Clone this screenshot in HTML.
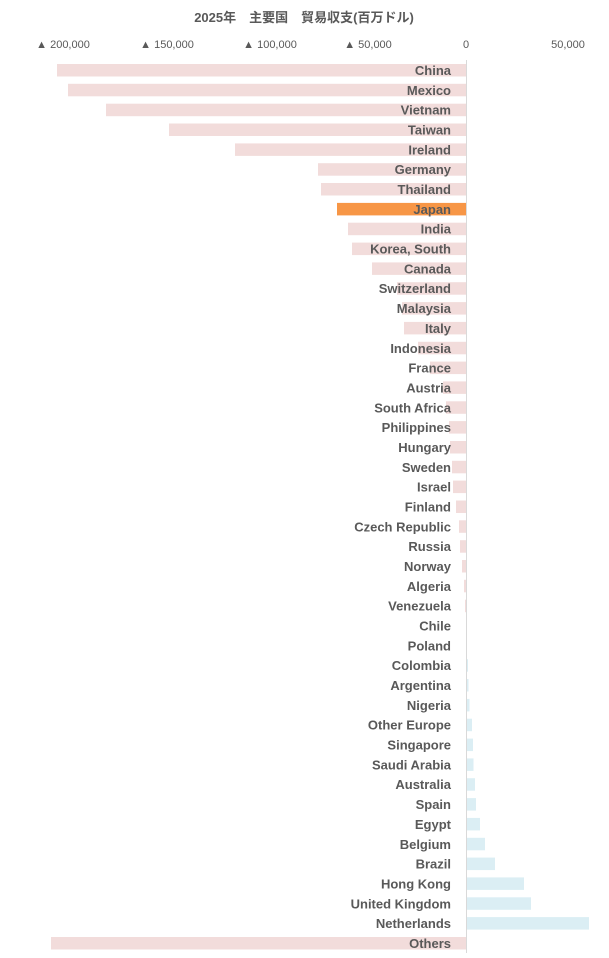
<!DOCTYPE html>
<html><head><meta charset="utf-8"><style>
html,body{margin:0;padding:0;background:#fff;}
svg{display:block;}
text{font-family:"Liberation Sans","Noto Sans CJK JP",sans-serif;fill:#595959;}
</style></head><body>
<svg width="609" height="958" xmlns="http://www.w3.org/2000/svg">
<text x="304" y="22" text-anchor="middle" font-size="13" font-weight="bold">2025年　主要国　貿易収支(百万ドル)</text>
<g font-size="11" text-anchor="middle">
<text x="63" y="48">▲ 200,000</text>
<text x="167" y="48">▲ 150,000</text>
<text x="270" y="48">▲ 100,000</text>
<text x="368" y="48">▲ 50,000</text>
<text x="466" y="48">0</text>
<text x="568" y="48">50,000</text>
</g>
<g fill="#f2dcdb">
<rect x="57" y="64.0" width="409.5" height="12.5"/>
<rect x="68" y="83.8" width="398.5" height="12.5"/>
<rect x="106" y="103.7" width="360.5" height="12.5"/>
<rect x="169" y="123.5" width="297.5" height="12.5"/>
<rect x="235" y="143.4" width="231.5" height="12.5"/>
<rect x="318" y="163.2" width="148.5" height="12.5"/>
<rect x="321" y="183.0" width="145.5" height="12.5"/>
<rect x="337" y="202.9" width="129.5" height="12.5" fill="#f79646"/>
<rect x="348" y="222.7" width="118.5" height="12.5"/>
<rect x="352" y="242.6" width="114.5" height="12.5"/>
<rect x="372" y="262.4" width="94.5" height="12.5"/>
<rect x="397" y="282.2" width="69.5" height="12.5"/>
<rect x="402" y="302.1" width="64.5" height="12.5"/>
<rect x="404" y="321.9" width="62.5" height="12.5"/>
<rect x="418" y="341.8" width="48.5" height="12.5"/>
<rect x="430" y="361.6" width="36.5" height="12.5"/>
<rect x="443" y="381.4" width="23.5" height="12.5"/>
<rect x="446" y="401.3" width="20.5" height="12.5"/>
<rect x="449" y="421.1" width="17.5" height="12.5"/>
<rect x="450" y="441.0" width="16.5" height="12.5"/>
<rect x="452" y="460.8" width="14.5" height="12.5"/>
<rect x="453" y="480.6" width="13.5" height="12.5"/>
<rect x="456" y="500.5" width="10.5" height="12.5"/>
<rect x="459" y="520.3" width="7.5" height="12.5"/>
<rect x="460" y="540.2" width="6.5" height="12.5"/>
<rect x="462" y="560.0" width="4.5" height="12.5"/>
<rect x="464" y="579.8" width="2.5" height="12.5"/>
<rect x="465" y="599.7" width="1.5" height="12.5"/>
<rect x="51" y="937.0" width="415.5" height="12.5"/>
</g>
<g fill="#dbeef4">
<rect x="466.5" y="659.2" width="1.5" height="12.5"/>
<rect x="466.5" y="679.0" width="2" height="12.5"/>
<rect x="466.5" y="698.9" width="3" height="12.5"/>
<rect x="466.5" y="718.7" width="5.5" height="12.5"/>
<rect x="466.5" y="738.6" width="6.5" height="12.5"/>
<rect x="466.5" y="758.4" width="7" height="12.5"/>
<rect x="466.5" y="778.2" width="8.5" height="12.5"/>
<rect x="466.5" y="798.1" width="9.5" height="12.5"/>
<rect x="466.5" y="817.9" width="13.5" height="12.5"/>
<rect x="466.5" y="837.8" width="18.5" height="12.5"/>
<rect x="466.5" y="857.6" width="28.5" height="12.5"/>
<rect x="466.5" y="877.4" width="57.5" height="12.5"/>
<rect x="466.5" y="897.3" width="64.5" height="12.5"/>
<rect x="466.5" y="917.1" width="122.5" height="12.5"/>
</g>
<line x1="466.5" y1="60" x2="466.5" y2="953" stroke="#d9d9d9" stroke-width="1"/>
<g font-size="13" font-weight="bold" text-anchor="end">
<text x="451" y="75.0">China</text>
<text x="451" y="94.8">Mexico</text>
<text x="451" y="114.7">Vietnam</text>
<text x="451" y="134.5">Taiwan</text>
<text x="451" y="154.4">Ireland</text>
<text x="451" y="174.2">Germany</text>
<text x="451" y="194.0">Thailand</text>
<text x="451" y="213.9">Japan</text>
<text x="451" y="233.7">India</text>
<text x="451" y="253.6">Korea, South</text>
<text x="451" y="273.4">Canada</text>
<text x="451" y="293.2">Switzerland</text>
<text x="451" y="313.1">Malaysia</text>
<text x="451" y="332.9">Italy</text>
<text x="451" y="352.8">Indonesia</text>
<text x="451" y="372.6">France</text>
<text x="451" y="392.4">Austria</text>
<text x="451" y="412.3">South Africa</text>
<text x="451" y="432.1">Philippines</text>
<text x="451" y="452.0">Hungary</text>
<text x="451" y="471.8">Sweden</text>
<text x="451" y="491.6">Israel</text>
<text x="451" y="511.5">Finland</text>
<text x="451" y="531.3">Czech Republic</text>
<text x="451" y="551.2">Russia</text>
<text x="451" y="571.0">Norway</text>
<text x="451" y="590.8">Algeria</text>
<text x="451" y="610.7">Venezuela</text>
<text x="451" y="630.5">Chile</text>
<text x="451" y="650.4">Poland</text>
<text x="451" y="670.2">Colombia</text>
<text x="451" y="690.0">Argentina</text>
<text x="451" y="709.9">Nigeria</text>
<text x="451" y="729.7">Other Europe</text>
<text x="451" y="749.6">Singapore</text>
<text x="451" y="769.4">Saudi Arabia</text>
<text x="451" y="789.2">Australia</text>
<text x="451" y="809.1">Spain</text>
<text x="451" y="828.9">Egypt</text>
<text x="451" y="848.8">Belgium</text>
<text x="451" y="868.6">Brazil</text>
<text x="451" y="888.4">Hong Kong</text>
<text x="451" y="908.3">United Kingdom</text>
<text x="451" y="928.1">Netherlands</text>
<text x="451" y="948.0">Others</text>
</g>
</svg>
</body></html>
